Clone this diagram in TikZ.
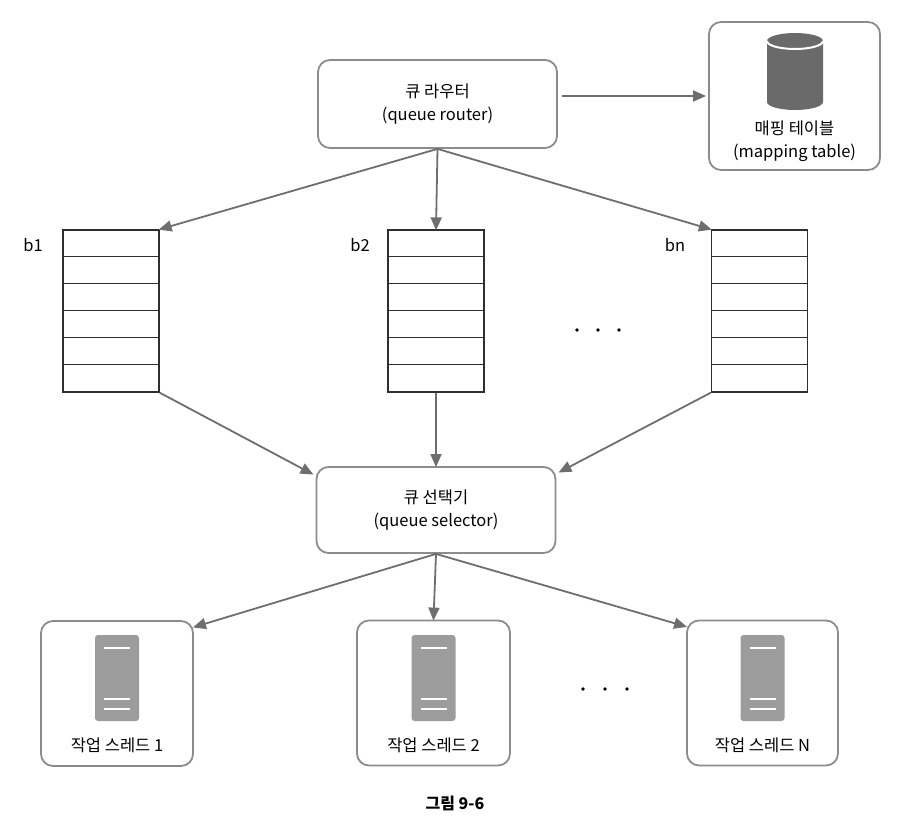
\documentclass[tikz,border=0pt]{standalone}
\usepackage{fontspec}
\setmainfont{Noto Sans CJK KR}
\usetikzlibrary{arrows.meta,calc}
\definecolor{boxgray}{HTML}{8C8C8C}
\definecolor{arrgray}{HTML}{6E6E6E}
\definecolor{icongray}{HTML}{9C9C9C}
\definecolor{cylgray}{HTML}{6A6A6A}
\definecolor{qline}{HTML}{2E2E2E}
\tikzset{
  rbox/.style={draw=boxgray,line width=1.8pt,rounded corners=12pt,fill=white,inner sep=0pt},
  conn/.style={draw=arrgray,line width=1.8pt,-{Triangle[length=13pt,width=11pt]},shorten >=-1pt},
  qbox/.style={draw=qline,line width=1.3pt,minimum width=96pt,minimum height=162pt,inner sep=0pt},
  qsep/.style={draw=qline,line width=1.3pt},
  lbl/.style={font=\fontsize{16.5}{23}\selectfont,align=center,inner sep=0pt},
  server/.style={fill=icongray,rounded corners=3pt},
  sline/.style={draw=white,line width=1.6pt},
  dotmark/.style={circle,fill=black,inner sep=0pt,minimum size=3.6pt}
}
\newcommand{\serverat}[2]{%
  \fill[server] (#1-22,#2) rectangle (#1+22,#2+86);
  \draw[sline] (#1-13,#2+13) -- (#1+13,#2+13);
  \draw[sline] (#1-13,#2+64) -- (#1+13,#2+64);
  \draw[sline] (#1-13,#2+74) -- (#1+13,#2+74);
}
\newcommand{\queueseps}[1]{%
  \foreach \k in {1,...,5} {\draw[qsep] ($(#1.north west)+(0,27*\k)$) -- ($(#1.north east)+(0,27*\k)$);}
}
\begin{document}
\begin{tikzpicture}[x=1pt,y=-1pt]
\useasboundingbox (0,0) rectangle (910,832);

% queue router
\node[rbox,minimum width=239pt,minimum height=88pt] (router) at (437.5,104) {};
\node[lbl] (routertxt) at (437.5,104) {큐 라우터\\(queue router)};

% mapping table
\node[rbox,minimum width=171pt,minimum height=148pt] (map) at (794.5,96) {};
\fill[cylgray] (767,41) -- (767,102) arc[start angle=180,end angle=360,x radius=28pt,y radius=8pt] -- (823,41) arc[start angle=0,end angle=180,x radius=28pt,y radius=8pt] -- cycle;
\draw[sline,line width=2pt] (767,41) arc[start angle=180,end angle=360,x radius=28pt,y radius=8pt];
\node[lbl] (maptxt) at (794.5,141) {매핑 테이블\\(mapping table)};

% queues
\node[qbox] (q1) at (111,311) {};
\node[qbox] (q2) at (436,311) {};
\node[qbox] (qn) at (759.5,311) {};
\queueseps{q1}
\queueseps{q2}
\queueseps{qn}
\node[lbl] (b1) at (33,245) {b1};
\node[lbl] (b2) at (360,245) {b2};
\node[lbl] (bn) at (675,245) {bn};
\node[dotmark] (qd1) at (577,330) {};
\node[dotmark] (qd2) at (598,330) {};
\node[dotmark] (qd3) at (619,330) {};

% queue selector
\node[rbox,minimum width=239pt,minimum height=86pt] (sel) at (436,510) {};
\node[lbl] (seltxt) at (436,510) {큐 선택기\\(queue selector)};

% workers
\node[rbox,minimum width=152pt,minimum height=145pt] (w1) at (117,693.5) {};
\node[rbox,minimum width=153pt,minimum height=145pt] (w2) at (433.5,693) {};
\node[rbox,minimum width=151pt,minimum height=145pt] (wn) at (762.5,693) {};
\serverat{117}{635}
\serverat{433.5}{635}
\serverat{762.5}{635}
\node[lbl] (w1txt) at (117,745) {작업 스레드 1};
\node[lbl] (w2txt) at (433.5,745) {작업 스레드 2};
\node[lbl] (wntxt) at (762.5,745) {작업 스레드 N};
\node[dotmark] (wd1) at (583,689) {};
\node[dotmark] (wd2) at (605,689) {};
\node[dotmark] (wd3) at (627,689) {};

% caption
\node[lbl,font=\fontsize{16}{18}\selectfont\bfseries] (cap) at (455,803) {그림 9-6};

% connectors
\draw[conn] ([xshift=4pt]router.east |- map.west) -- ([xshift=-3pt]map.west);
\draw[conn] (router.south) -- (q1.north east);
\draw[conn] (router.south) -- (q2.north);
\draw[conn] (router.south) -- (qn.north west);
\coordinate (selL) at ($(sel.north west)+(-3,8)$);
\coordinate (selR) at ($(sel.north east)+(3,6)$);
\draw[conn] (q1.south east) -- (selL);
\draw[conn] (q2.south) -- (sel.north);
\draw[conn] (qn.south west) -- (selR);
\coordinate (w1R) at ($(w1.north east)+(0,7)$);
\coordinate (wnL) at ($(wn.north west)+(0,7)$);
\draw[conn] (sel.south) -- (w1R);
\draw[conn] (sel.south) -- (w2.north);
\draw[conn] (sel.south) -- (wnL);
\end{tikzpicture}
\end{document}
